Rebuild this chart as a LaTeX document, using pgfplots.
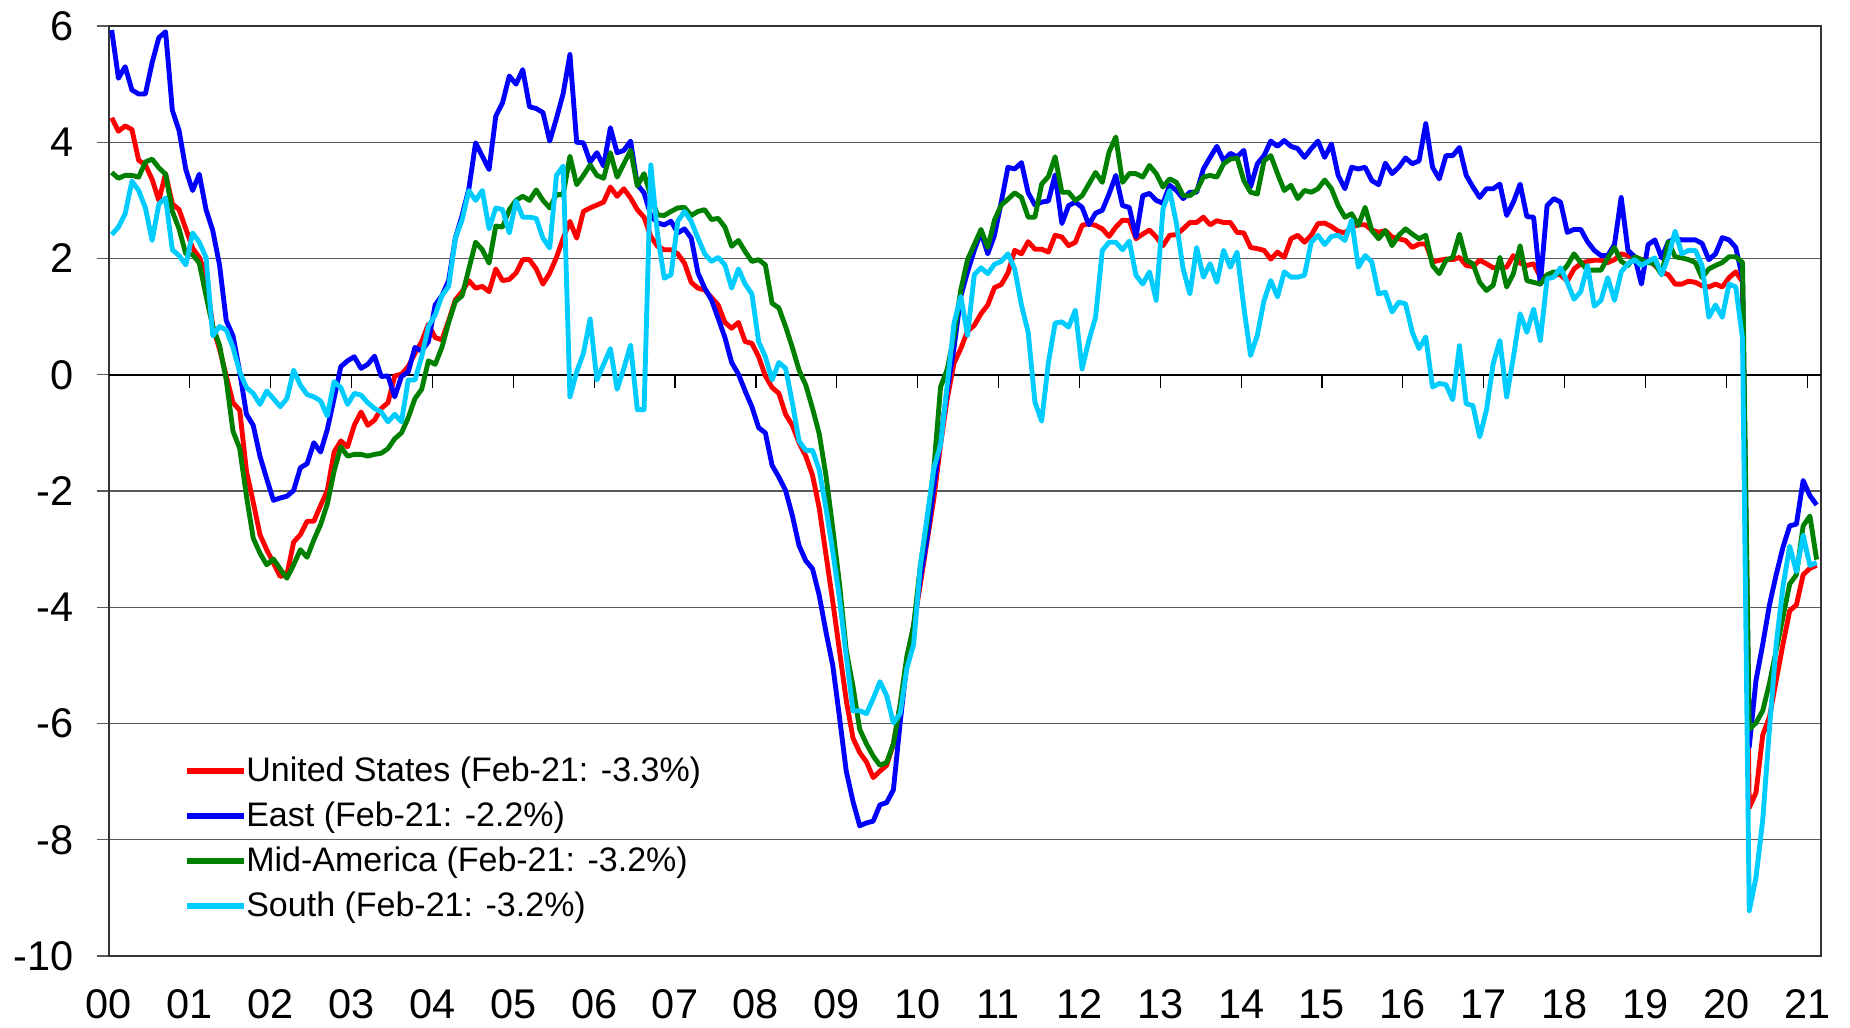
\documentclass[border=0pt]{standalone}
\usepackage{fontspec}
\setmainfont{Liberation Sans}
\usepackage{pgfplots}
\usepackage{pgfplotstable}
\pgfplotsset{compat=1.18}
\definecolor{cUS}{RGB}{255,0,0}
\definecolor{cEast}{RGB}{0,0,255}
\definecolor{cMid}{RGB}{0,128,0}
\definecolor{cSouth}{RGB}{0,204,255}
\pgfplotstableread{
m us east mid south
0 4.42 5.93 3.48 2.41
1 4.19 5.1 3.38 2.54
2 4.28 5.3 3.43 2.77
3 4.22 4.9 3.43 3.33
4 3.69 4.83 3.4 3.17
5 3.61 4.83 3.66 2.87
6 3.36 5.37 3.71 2.31
7 3.0 5.8 3.56 2.94
8 3.46 5.9 3.45 3.04
9 2.94 4.55 2.81 2.15
10 2.84 4.2 2.51 2.05
11 2.51 3.53 2.08 1.89
12 2.18 3.17 2.07 2.44
13 2.02 3.45 1.92 2.28
14 1.72 2.84 1.36 2.02
15 0.83 2.48 0.83 0.67
16 0.44 1.89 0.51 0.83
17 -0.02 0.93 -0.09 0.77
18 -0.48 0.67 -0.97 0.47
19 -0.61 0.05 -1.27 0.05
20 -1.66 -0.68 -2.09 -0.22
21 -2.19 -0.87 -2.81 -0.32
22 -2.75 -1.4 -3.07 -0.51
23 -3.01 -1.79 -3.27 -0.28
24 -3.24 -2.16 -3.17 -0.41
25 -3.47 -2.12 -3.34 -0.55
26 -3.44 -2.09 -3.5 -0.41
27 -2.88 -1.99 -3.27 0.08
28 -2.75 -1.6 -3.01 -0.18
29 -2.52 -1.53 -3.14 -0.34
30 -2.52 -1.17 -2.84 -0.38
31 -2.25 -1.33 -2.58 -0.45
32 -1.99 -0.94 -2.22 -0.71
33 -1.33 -0.41 -1.66 -0.12
34 -1.14 0.14 -1.24 -0.22
35 -1.24 0.24 -1.4 -0.51
36 -0.87 0.31 -1.37 -0.32
37 -0.64 0.11 -1.37 -0.35
38 -0.87 0.18 -1.4 -0.48
39 -0.78 0.32 -1.37 -0.58
40 -0.58 -0.03 -1.35 -0.64
41 -0.48 -0.02 -1.27 -0.81
42 -0.02 -0.38 -1.1 -0.68
43 0.01 -0.03 -1.0 -0.81
44 0.14 0.05 -0.74 -0.09
45 0.37 0.47 -0.41 -0.09
46 0.57 0.41 -0.25 0.31
47 0.87 0.57 0.24 0.83
48 0.64 1.2 0.18 1.03
49 0.6 1.36 0.47 1.36
50 0.93 1.62 0.9 1.52
51 1.29 2.35 1.26 2.35
52 1.43 2.74 1.36 2.67
53 1.62 3.2 1.82 3.17
54 1.49 3.99 2.28 3.0
55 1.52 3.76 2.15 3.17
56 1.43 3.53 1.92 2.51
57 1.82 4.45 2.56 2.87
58 1.62 4.68 2.54 2.84
59 1.64 5.14 2.84 2.44
60 1.75 5.0 3.0 2.99
61 1.98 5.25 3.07 2.71
62 1.98 4.61 3.0 2.71
63 1.82 4.58 3.18 2.69
64 1.56 4.51 3.0 2.35
65 1.75 4.02 2.87 2.18
66 2.02 4.41 3.1 3.43
67 2.35 4.84 3.1 3.59
68 2.64 5.51 3.76 -0.38
69 2.35 4.0 3.27 0.05
70 2.81 3.99 3.43 0.37
71 2.87 3.66 3.61 0.96
72 2.92 3.82 3.43 -0.09
73 2.97 3.59 3.38 0.18
74 3.23 4.25 3.82 0.45
75 3.07 3.82 3.4 -0.25
76 3.2 3.86 3.63 0.11
77 3.04 4.02 3.86 0.51
78 2.84 3.27 3.25 -0.6
79 2.71 3.13 3.46 -0.6
80 2.38 2.74 3.07 3.61
81 2.21 2.61 2.75 2.41
82 2.15 2.58 2.74 1.66
83 2.15 2.64 2.81 1.72
84 2.08 2.44 2.87 2.64
85 1.92 2.51 2.88 2.81
86 1.59 2.35 2.74 2.64
87 1.49 1.75 2.81 2.35
88 1.46 1.49 2.84 2.08
89 1.33 1.29 2.67 1.95
90 1.2 0.97 2.69 2.02
91 0.9 0.64 2.54 1.89
92 0.8 0.21 2.21 1.49
93 0.9 0.01 2.31 1.82
94 0.57 -0.28 2.12 1.56
95 0.54 -0.55 1.95 1.39
96 0.31 -0.91 1.98 0.57
97 -0.02 -1.0 1.89 0.31
98 -0.22 -1.56 1.23 -0.09
99 -0.32 -1.76 1.15 0.21
100 -0.68 -1.99 0.83 0.11
101 -0.87 -2.42 0.47 -0.48
102 -1.17 -2.94 0.08 -1.14
103 -1.4 -3.2 -0.18 -1.3
104 -1.73 -3.34 -0.58 -1.3
105 -2.3 -3.8 -1.02 -1.64
106 -3.1 -4.43 -1.74 -2.3
107 -3.9 -5.0 -2.64 -3.04
108 -4.75 -5.89 -3.6 -3.85
109 -5.6 -6.82 -4.74 -4.84
110 -6.25 -7.34 -5.36 -5.78
111 -6.5 -7.76 -6.1 -5.78
112 -6.66 -7.71 -6.35 -5.83
113 -6.93 -7.68 -6.56 -5.57
114 -6.82 -7.4 -6.72 -5.28
115 -6.72 -7.36 -6.67 -5.52
116 -6.35 -7.14 -6.35 -5.99
117 -5.68 -5.99 -5.68 -5.83
118 -4.9 -4.95 -4.84 -5.05
119 -4.32 -4.32 -4.32 -4.64
120 -3.6 -3.49 -3.28 -3.28
121 -2.86 -2.81 -2.55 -2.45
122 -2.13 -1.93 -1.61 -1.61
123 -1.2 -1.09 -0.21 -1.2
124 -0.4 -0.26 0.1 -0.16
125 0.2 0.47 0.68 0.89
126 0.45 1.35 1.46 1.35
127 0.75 1.77 1.98 0.68
128 0.85 2.14 2.24 1.72
129 1.05 2.45 2.5 1.84
130 1.2 2.08 2.19 1.74
131 1.5 2.4 2.66 1.9
132 1.55 2.97 2.92 1.95
133 1.75 3.57 3.02 2.08
134 2.14 3.54 3.13 1.82
135 2.08 3.65 3.05 1.2
136 2.29 3.13 2.71 0.73
137 2.16 2.92 2.71 -0.47
138 2.16 2.97 3.28 -0.8
139 2.11 2.99 3.41 0.21
140 2.4 3.44 3.75 0.89
141 2.37 2.6 3.14 0.91
142 2.22 2.91 3.14 0.82
143 2.28 2.97 3.0 1.11
144 2.57 2.88 3.08 0.1
145 2.6 2.58 3.28 0.59
146 2.57 2.78 3.48 0.99
147 2.51 2.83 3.31 2.14
148 2.38 3.11 3.83 2.28
149 2.54 3.43 4.09 2.28
150 2.66 2.91 3.31 2.15
151 2.65 2.88 3.46 2.3
152 2.34 2.37 3.46 1.71
153 2.42 3.08 3.4 1.56
154 2.49 3.12 3.6 1.77
155 2.37 3.0 3.46 1.28
156 2.22 2.95 3.23 2.85
157 2.4 3.26 3.37 3.17
158 2.41 3.17 3.31 2.6
159 2.51 3.03 3.08 1.82
160 2.62 3.14 3.08 1.39
161 2.62 3.14 3.17 2.19
162 2.71 3.54 3.4 1.68
163 2.58 3.74 3.43 1.91
164 2.65 3.93 3.4 1.59
165 2.62 3.68 3.63 2.14
166 2.62 3.81 3.71 1.85
167 2.45 3.75 3.73 2.11
168 2.44 3.86 3.34 1.16
169 2.19 3.23 3.14 0.33
170 2.17 3.63 3.11 0.68
171 2.14 3.77 3.68 1.28
172 1.99 4.02 3.77 1.62
173 2.11 3.93 3.46 1.34
174 2.02 4.03 3.17 1.77
175 2.34 3.93 3.26 1.68
176 2.4 3.89 3.03 1.68
177 2.28 3.74 3.17 1.71
178 2.4 3.89 3.14 2.28
179 2.6 4.02 3.2 2.4
180 2.61 3.74 3.35 2.24
181 2.55 3.97 3.2 2.38
182 2.47 3.43 2.91 2.4
183 2.44 3.2 2.71 2.31
184 2.54 3.57 2.77 2.66
185 2.58 3.54 2.57 1.85
186 2.58 3.57 2.88 2.05
187 2.49 3.34 2.48 1.94
188 2.45 3.27 2.34 1.39
189 2.48 3.64 2.48 1.42
190 2.37 3.46 2.22 1.08
191 2.34 3.57 2.4 1.25
192 2.31 3.73 2.51 1.22
193 2.19 3.63 2.42 0.73
194 2.25 3.68 2.34 0.45
195 2.25 4.32 2.4 0.65
196 1.94 3.57 1.88 -0.21
197 1.97 3.37 1.74 -0.15
198 1.99 3.77 1.97 -0.17
199 1.98 3.77 2.02 -0.43
200 2.02 3.91 2.42 0.5
201 1.88 3.43 1.97 -0.5
202 1.86 3.23 1.91 -0.53
203 1.97 3.05 1.59 -1.07
204 1.91 3.2 1.45 -0.61
205 1.84 3.2 1.54 0.19
206 1.85 3.28 2.02 0.59
207 1.85 2.74 1.51 -0.38
208 2.05 2.97 1.74 0.3
209 1.92 3.28 2.22 1.05
210 1.88 2.72 1.62 0.73
211 1.91 2.71 1.59 1.13
212 1.68 1.56 1.56 0.59
213 1.7 2.91 1.72 1.65
214 1.72 3.03 1.77 1.68
215 1.72 2.97 1.74 1.84
216 1.61 2.45 1.88 1.59
217 1.82 2.5 2.08 1.3
218 1.91 2.5 1.93 1.43
219 1.95 2.29 1.8 1.88
220 1.97 2.14 1.8 1.18
221 1.97 2.05 1.8 1.28
222 1.93 2.05 2.01 1.67
223 1.98 2.24 2.19 1.28
224 2.08 3.05 1.95 1.77
225 2.05 2.14 1.88 1.91
226 2.03 2.03 2.03 1.98
227 1.98 1.56 1.98 1.88
228 1.98 2.24 1.93 1.95
229 1.88 2.32 1.91 2.01
230 1.77 2.01 1.72 1.72
231 1.72 2.29 2.29 2.03
232 1.56 2.34 2.03 2.47
233 1.56 2.32 2.01 2.08
234 1.61 2.32 1.98 2.14
235 1.59 2.32 1.93 2.14
236 1.53 2.26 1.67 1.88
237 1.51 1.98 1.82 0.99
238 1.56 2.08 1.88 1.2
239 1.51 2.36 1.93 0.99
240 1.67 2.32 2.03 1.56
241 1.77 2.19 2.03 1.51
242 1.6 1.67 1.93 0.63
243 -7.45 -6.4 -6.1 -9.22
244 -7.19 -5.26 -5.99 -8.65
245 -6.2 -4.64 -5.78 -7.66
246 -5.89 -3.96 -5.31 -6.09
247 -5.26 -3.44 -4.74 -4.64
248 -4.64 -2.97 -4.17 -3.65
249 -4.06 -2.6 -3.6 -2.95
250 -3.96 -2.57 -3.44 -3.39
251 -3.44 -1.82 -2.6 -2.76
252 -3.33 -2.08 -2.43 -3.28
253 -3.28 -2.24 -3.18 -3.23
}\datatable
\begin{document}
\begin{tikzpicture}
\useasboundingbox (-43.6pt,-28.4pt) rectangle (696.4pt,382.4pt);
\begin{axis}[
  at={(0pt,0pt)}, anchor=south west,
  scale only axis, width=684.8pt, height=372pt,
  xmin=-0.4, xmax=253.65, ymin=-10, ymax=6,
  xtick={-0.4,11.6,23.6,35.6,47.6,59.6,71.6,83.6,95.6,107.6,119.6,131.6,143.6,155.6,167.6,179.6,191.6,203.6,215.6,227.6,239.6,251.6},
  xticklabels={00,01,02,03,04,05,06,07,08,09,10,11,12,13,14,15,16,17,18,19,20,21},
  ytick={-10,-8,-6,-4,-2,0,2,4,6},
  yticklabels={-10,-8,-6,-4,-2,0,2,4,6},
  ymajorgrids, grid style={black!65, line width=0.45pt},
  tick pos=left,
  x tick style={draw=none},
  y tick style={black!65, line width=0.45pt},
  tick align=outside, major tick length=4.8pt,
  ticklabel style={font=\fontsize{16.6}{16.6}\selectfont, text=black},
  yticklabel style={inner sep=0pt, anchor=east, xshift=-9.1pt},
  xticklabel style={inner sep=0pt, anchor=north, yshift=-8.6pt},
  axis line style={black!80, line width=0.6pt},
  legend style={draw=none, fill=none, at={(0.0437,0.2149)}, anchor=north west,
    font=\fontsize{13.6}{13.6}\selectfont, inner sep=0pt, row sep=6.7pt,
    nodes={inner sep=0pt}, cells={anchor=west}},
  legend image code/.code={\draw[#1, line width=2.2pt] (0pt,0pt) -- (22.6pt,0pt);},
  every axis plot/.append style={line width=1.95pt, line join=round},
]
\draw[black, line width=0.6pt] (axis cs:-0.4,0) -- (axis cs:253.65,0);
\pgfplotsinvokeforeach{11.6,23.6,35.6,47.6,59.6,71.6,83.6,95.6,107.6,119.6,131.6,143.6,155.6,167.6,179.6,191.6,203.6,215.6,227.6,239.6,251.6}{
  \draw[black, line width=0.5pt] (axis cs:#1,0) -- ++(0pt,-5.2pt);
}
\addplot[cUS] table[x=m, y=us] {\datatable};
\addlegendentry{United States (Feb-21: -3.3\%)}
\addplot[cEast] table[x=m, y=east] {\datatable};
\addlegendentry{East (Feb-21: -2.2\%)}
\addplot[cMid] table[x=m, y=mid] {\datatable};
\addlegendentry{Mid-America (Feb-21: -3.2\%)}
\addplot[cSouth] table[x=m, y=south] {\datatable};
\addlegendentry{South (Feb-21: -3.2\%)}
\end{axis}
\end{tikzpicture}
\end{document}
